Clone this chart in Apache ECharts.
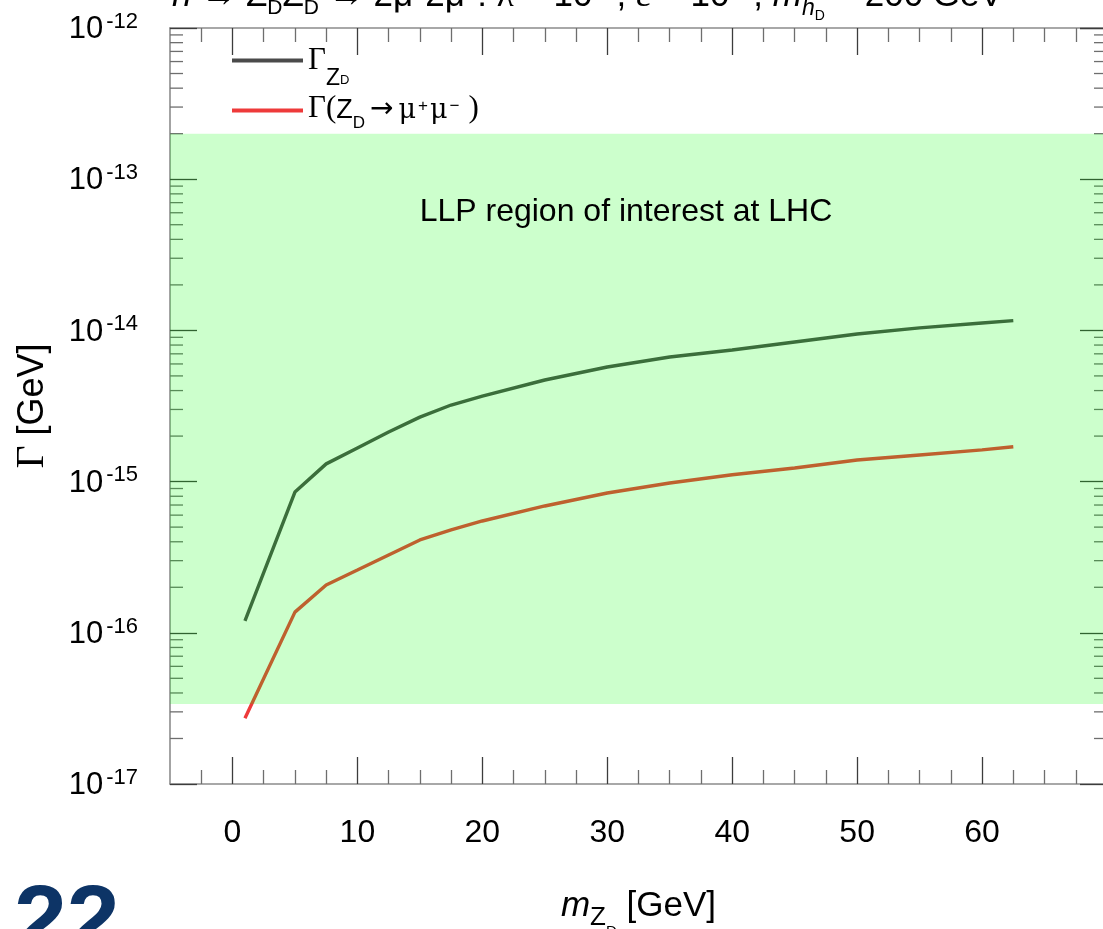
<!DOCTYPE html>
<html>
<head>
<meta charset="utf-8">
<script src="https://cdn.jsdelivr.net/npm/echarts@6/dist/echarts.min.js"></script>
<style>
  html, body { margin: 0; padding: 0; background: #ffffff; }
  #chart { width: 1103px; height: 929px; }
</style>
</head>
<body>
<div id="chart"></div>
<script>
// Dark photon mass grid [GeV]
const massPoints = [1, 5, 7.5, 10, 12.5, 15, 17.5, 20, 25, 30, 35, 40, 45, 50, 55, 60, 62.5];
// Total width of Z_D [GeV]
const widthTotal = [1.20e-16, 8.53e-16, 1.31e-15, 1.67e-15, 2.13e-15, 2.67e-15, 3.21e-15, 3.68e-15,
                    4.70e-15, 5.73e-15, 6.67e-15, 7.42e-15, 8.38e-15, 9.46e-15, 1.04e-14, 1.12e-14, 1.16e-14];
// Partial width Z_D -> mu+ mu- [GeV]
const widthMuMu = [2.72e-17, 1.37e-16, 2.07e-16, 2.60e-16, 3.27e-16, 4.11e-16, 4.79e-16, 5.49e-16,
                   6.90e-16, 8.41e-16, 9.79e-16, 1.11e-15, 1.23e-15, 1.39e-15, 1.50e-15, 1.62e-15, 1.70e-15];
// Width range giving displaced decays at the LHC [GeV]
const llpBand = [3.38e-17, 2e-13];

// Axis ranges and ticks
const xRange = [-5, 70];
const yRange = [1e-17, 1e-12];
const xMajorTicks = [0, 10, 20, 30, 40, 50, 60, 70];
const xTickLabels = [0, 10, 20, 30, 40, 50, 60];
const xMinorTicks = [-2.5, 2.5, 5, 7.5, 12.5, 15, 17.5, 22.5, 25, 27.5, 32.5, 35, 37.5,
                     42.5, 45, 47.5, 52.5, 55, 57.5, 62.5, 65, 67.5];
const yDecades = [1e-17, 1e-16, 1e-15, 1e-14, 1e-13];
const yMinorFactors = [2, 3, 4, 5, 6, 7, 8, 9];

const yMinorTicks = [];
yDecades.forEach(d => yMinorFactors.forEach(f => yMinorTicks.push(f * d)));

const SANS = '"Liberation Sans", Arial, Helvetica, sans-serif';
const SERIF = '"Liberation Serif", "Times New Roman", serif';
const SPINE = '#8c8c8c';
const MAJOR = '#3c3c3c';
const MINOR = '#6e6e6e';

const COLOR_TOTAL = '#4a4a4a';
const COLOR_MUMU = '#ee3a3a';

function xAxisDef(position, major) {
  return {
    type: 'value', min: xRange[0], max: xRange[1], position: position,
    axisLine: { show: major, onZero: false, lineStyle: { color: SPINE, width: 1.6 } },
    axisTick: {
      show: true, inside: true, length: major ? 27 : 14,
      customValues: major ? xMajorTicks : xMinorTicks,
      lineStyle: { color: major ? MAJOR : MINOR, width: 1.3 }
    },
    axisLabel: { show: false },
    splitLine: { show: false }
  };
}

const xAxes = [xAxisDef('bottom', true), xAxisDef('bottom', false), xAxisDef('top', true), xAxisDef('top', false)];
Object.assign(xAxes[0].axisLabel, {
  show: true, customValues: xTickLabels, margin: 33,
  fontSize: 32, fontFamily: SANS, color: '#000'
});
Object.assign(xAxes[0], {
  name: '{i|m}{z|Z}{d|D}{m| [GeV]}',
  nameLocation: 'middle', nameGap: 105,
  nameTextStyle: {
    rich: {
      i: { fontSize: 35, fontFamily: SANS, fontStyle: 'italic', color: '#000', verticalAlign: 'bottom', padding: [0, 0, 15.2, 0] },
      m: { fontSize: 35, fontFamily: SANS, color: '#000', verticalAlign: 'bottom', padding: [0, 0, 15.2, 0] },
      z: { fontSize: 26, fontFamily: SANS, color: '#000', verticalAlign: 'bottom', padding: [0, 0, 8.1, 0] },
      d: { fontSize: 15, fontFamily: SANS, color: '#000', verticalAlign: 'bottom', padding: [0, 0, 0, 0] }
    }
  }
});

function yAxisDef(position) {
  return {
    type: 'log', logBase: 10, min: yRange[0], max: yRange[1], position: position,
    axisLine: { show: true, onZero: false, lineStyle: { color: SPINE, width: 1.6 } },
    axisTick: { show: true, inside: true, length: 27, lineStyle: { color: MAJOR, width: 1.3 } },
    axisLabel: { show: false },
    splitLine: { show: false },
    minorTick: { show: false },
    minorSplitLine: { show: false }
  };
}
const yAxes = [yAxisDef('left'), yAxisDef('right')];
Object.assign(yAxes[0].axisLabel, {
  show: true, margin: 32,
  formatter: function (v) {
    const e = Math.round(Math.log10(v));
    return '{b|10}{s|' + e + '}';
  },
  rich: {
    b: { fontSize: 31, fontFamily: SANS, color: '#000', verticalAlign: 'bottom', padding: [0, 0, 0, 0] },
    s: { fontSize: 22, fontFamily: SANS, color: '#000', verticalAlign: 'bottom', padding: [0, 0, 12.5, 3] }
  }
});
Object.assign(yAxes[0], {
  name: '{g|\u0393}{t| [GeV]}',
  nameLocation: 'middle', nameGap: 118, nameRotate: 90,
  nameTextStyle: {
    rich: {
      g: { fontSize: 40, fontFamily: SERIF, color: '#000', verticalAlign: 'bottom' },
      t: { fontSize: 36, fontFamily: SANS, color: '#000', verticalAlign: 'bottom', padding: [0, 0, 1, 0] }
    }
  }
});

const legendText = {
  total: '{g|\u0393}{z|Z}{d|D}',
  mumu: '{g2|\u0393(}{z2|Z}{d2|D}{a|\u2192}{u|\u03bc}{p|+}{u|\u03bc}{p|\u2212}{c|)}'
};

const option = {
  animation: false,
  backgroundColor: '#ffffff',
  grid: { left: 170, top: 28, right: -4, bottom: 145, containLabel: false, outerBoundsMode: 'none' },
  xAxis: xAxes,
  yAxis: yAxes,
  legend: {
    data: ['total', 'mumu'],
    orient: 'vertical', left: 232, top: 45, padding: 0,
    itemWidth: 71, itemHeight: 4, itemGap: 4, icon: 'rect',
    selectedMode: false,
    formatter: n => legendText[n],
    textStyle: {
      rich: {
        g: { fontSize: 31, fontFamily: SERIF, color: '#000', verticalAlign: 'bottom', padding: [0, 0, 13.8, 0] },
        z: { fontSize: 23, fontFamily: SANS, color: '#000', verticalAlign: 'bottom', padding: [35.4, 0, 0, 0] },
        d: { fontSize: 13, fontFamily: SANS, color: '#000', verticalAlign: 'bottom', padding: [0, 0, 2.4, 0] },
        g2: { fontSize: 31, fontFamily: SERIF, color: '#000', verticalAlign: 'bottom', padding: [4.7, 0, 6.9, 0] },
        c: { fontSize: 31, fontFamily: SERIF, color: '#000', verticalAlign: 'bottom', padding: [4.7, 0, 6.9, 7] },
        u: { fontSize: 27, fontFamily: '"DejaVu Serif", serif', color: '#000', verticalAlign: 'bottom', padding: [0, 0, 7.5, 0] },
        a: { fontSize: 28, fontFamily: '"DejaVu Sans", sans-serif', color: '#000', verticalAlign: 'bottom', padding: [0, 5, 8, 5] },
        z2: { fontSize: 27, fontFamily: SANS, color: '#000', verticalAlign: 'bottom', padding: [0, 0, 7.6, 0] },
        d2: { fontSize: 17, fontFamily: SANS, color: '#000', verticalAlign: 'bottom', padding: [0, 0, 0, 0] },
        p: { fontSize: 17, fontFamily: SANS, color: '#000', verticalAlign: 'bottom', padding: [0, 2, 17, 2] }
      }
    }
  },
  graphic: [
    {
      type: 'text', left: 172, top: -23, silent: true, z: 100,
      style: {
        text: '{i|h}{m| \u2192 Z}{sd|D}{m|Z}{sd|D}{m| \u2192 2\u03bc}{su|+}{m|2\u03bc}{su|\u2212}{m|: }{r|\u03bb}{m| = 10}{su|\u22124}{m|, }{r|\u03b5}{m| = 10}{su|\u22128}{m|, }{i|m}{ih|h}{dd|D}{m| = 200 GeV}',
        rich: {
          m: { fontSize: 35, fontFamily: SANS, fill: '#000', verticalAlign: 'bottom', padding: [0, 0, 9, 0] },
          i: { fontSize: 35, fontFamily: SANS, fontStyle: 'italic', fill: '#000', verticalAlign: 'bottom', padding: [0, 0, 9, 0] },
          r: { fontSize: 35, fontFamily: SERIF, fill: '#000', verticalAlign: 'bottom', padding: [0, 0, 9, 0] },
          sd: { fontSize: 21, fontFamily: SANS, fill: '#000', verticalAlign: 'bottom', padding: [0, 0, 4, 0] },
          su: { fontSize: 21, fontFamily: SANS, fill: '#000', verticalAlign: 'bottom', padding: [0, 0, 25, 0] },
          ih: { fontSize: 23, fontFamily: SANS, fontStyle: 'italic', fill: '#000', verticalAlign: 'bottom', padding: [0, 0, 2.7, 0] },
          dd: { fontSize: 14, fontFamily: SANS, fill: '#000', verticalAlign: 'bottom', padding: [0, 0, 0, 0] }
        }
      }
    },
    {
      type: 'text', x: 626, y: 212, silent: true, z: 100,
      style: { text: 'LLP region of interest at LHC', fontSize: 32, fontFamily: SANS, fill: '#000', align: 'center', verticalAlign: 'middle' }
    },
    {
      type: 'text', left: 14, top: 877, silent: true, z: 100,
      style: { text: '22', fontSize: 95, fontWeight: 'bold', fontFamily: SANS, fill: '#0d3466' }
    }
  ],
  series: [
    {
      // log-spaced minor ticks on the left and right frame
      type: 'custom', name: 'yMinor', xAxisIndex: 0, yAxisIndex: 0, silent: true, z: 2, clip: false,
      data: yMinorTicks.map(v => [xRange[0], v]),
      renderItem: function (params, api) {
        const v = api.value(1);
        const l = api.coord([xRange[0], v]);
        const r = api.coord([xRange[1], v]);
        const st = { stroke: MINOR, lineWidth: 1.3 };
        return {
          type: 'group', children: [
            { type: 'line', shape: { x1: l[0], y1: l[1], x2: l[0] + 13, y2: l[1] }, style: st },
            { type: 'line', shape: { x1: r[0] - 13, y1: r[1], x2: r[0], y2: r[1] }, style: st }
          ]
        };
      }
    },
    {
      name: 'total', type: 'line', xAxisIndex: 0, yAxisIndex: 0, z: 3,
      data: massPoints.map((m, i) => [m, widthTotal[i]]),
      symbol: 'none', smooth: false,
      lineStyle: { color: COLOR_TOTAL, width: 3.4 },
      itemStyle: { color: COLOR_TOTAL }
    },
    {
      name: 'mumu', type: 'line', xAxisIndex: 0, yAxisIndex: 0, z: 3,
      data: massPoints.map((m, i) => [m, widthMuMu[i]]),
      symbol: 'none', smooth: false,
      lineStyle: { color: COLOR_MUMU, width: 3.4 },
      itemStyle: { color: COLOR_MUMU }
    },
    {
      // translucent LLP band laid over the curves
      name: 'llp', type: 'line', xAxisIndex: 0, yAxisIndex: 0, z: 10, data: [], silent: true,
      markArea: {
        silent: true, z: 10,
        itemStyle: { color: 'rgba(0,255,0,0.2)' },
        label: { show: false },
        data: [[{ xAxis: xRange[0], yAxis: llpBand[0] }, { xAxis: xRange[1], yAxis: llpBand[1] }]]
      }
    }
  ]
};

const chart = echarts.init(document.getElementById('chart'), null, { renderer: 'canvas' });
chart.setOption(option);
</script>
</body>
</html>
